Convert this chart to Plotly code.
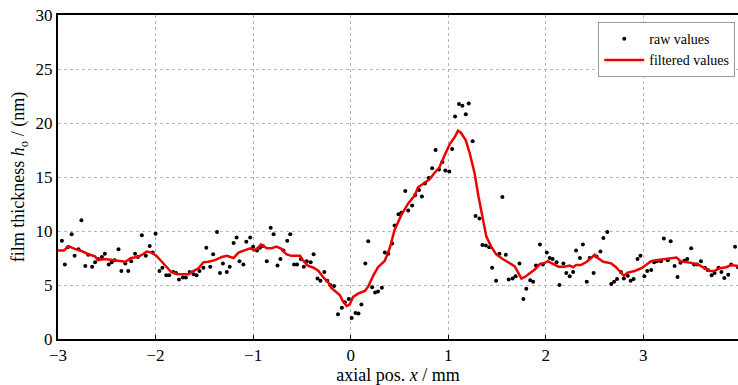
import plotly.graph_objects as go

# raw measured values (axial position in mm, film thickness in nm)
raw_x = [-2.96, -2.93, -2.90, -2.86, -2.83, -2.79, -2.76, -2.72, -2.69, -2.65, -2.62, -2.59, -2.55, -2.52,
         -2.48, -2.45, -2.42, -2.38, -2.35, -2.31, -2.28, -2.25, -2.21, -2.18, -2.14, -2.10, -2.06, -2.03,
         -2.00, -1.96, -1.93, -1.89, -1.86, -1.82, -1.79, -1.76, -1.72, -1.69, -1.65, -1.61, -1.58, -1.55,
         -1.51, -1.48, -1.44, -1.41, -1.37, -1.34, -1.31, -1.27, -1.24, -1.20, -1.17, -1.14, -1.10, -1.07,
         -1.03, -1.00, -0.96, -0.93, -0.90, -0.86, -0.82, -0.79, -0.75, -0.72, -0.69, -0.65, -0.62, -0.58,
         -0.55, -0.51, -0.48, -0.45, -0.41, -0.38, -0.34, -0.31, -0.27, -0.24, -0.21, -0.17, -0.13, -0.09,
         -0.06, -0.02, 0.01, 0.05, 0.08, 0.11, 0.15, 0.18, 0.22, 0.25, 0.28, 0.32, 0.35, 0.385, 0.425, 0.45,
         0.49, 0.52, 0.56, 0.59, 0.63, 0.66, 0.70, 0.73, 0.76, 0.80, 0.835, 0.87, 0.905, 0.94, 0.97, 1.01,
         1.04, 1.07, 1.11, 1.145, 1.18, 1.21, 1.25, 1.28, 1.32, 1.35, 1.385, 1.42, 1.45, 1.49, 1.525, 1.555,
         1.59, 1.62, 1.66, 1.69, 1.73, 1.77, 1.80, 1.84, 1.87, 1.90, 1.94, 1.97, 2.01, 2.04, 2.07, 2.11,
         2.14, 2.18, 2.21, 2.245, 2.28, 2.31, 2.35, 2.38, 2.42, 2.45, 2.49, 2.52, 2.56, 2.59, 2.63, 2.67,
         2.70, 2.73, 2.77, 2.80, 2.84, 2.87, 2.90, 2.94, 2.97, 3.01, 3.04, 3.08, 3.11, 3.14, 3.18, 3.21,
         3.25, 3.28, 3.32, 3.35, 3.38, 3.42, 3.45, 3.49, 3.52, 3.55, 3.59, 3.63, 3.66, 3.70, 3.73, 3.77,
         3.80, 3.83, 3.87, 3.90, 3.94, 3.97]
raw_y = [9.1, 6.9, 8.5, 9.7, 7.7, 8.3, 11.0, 6.75, 7.8, 6.7, 7.1, 7.4, 7.6, 7.9,
         6.9, 7.1, 7.3, 8.3, 6.3, 7.0, 6.3, 7.2, 7.9, 7.6, 9.6, 7.7, 8.6, 8.0,
         9.75, 6.3, 6.6, 5.9, 5.9, 6.2, 6.1, 5.5, 5.7, 5.7, 6.2, 6.0, 5.9, 6.3,
         6.6, 8.45, 6.7, 7.85, 9.9, 6.1, 7.0, 6.2, 6.7, 8.9, 9.4, 7.2, 6.9, 9.0,
         9.4, 8.55, 8.2, 8.45, 8.6, 7.2, 10.3, 9.7, 6.8, 7.4, 8.2, 9.1, 9.7, 6.9,
         6.9, 7.4, 6.7, 7.2, 7.1, 7.85, 5.6, 5.4, 6.2, 5.4, 5.0, 4.9, 2.3, 2.9,
         3.4, 3.7, 1.95, 2.4, 2.35, 3.2, 7.0, 9.05, 4.8, 4.3, 4.4, 4.75, 8.0, 7.9, 8.85, 10.5,
         11.55, 11.7, 13.7, 11.9, 12.35, 13.3, 13.8, 13.2, 14.4, 14.9, 15.8, 17.5, 15.7, 16.4, 15.6, 15.5,
         17.6, 20.6, 21.75, 21.6, 20.8, 21.8, 18.3, 11.4, 11.15, 8.7, 8.65, 8.5, 6.6, 5.4, 7.9, 13.15,
         7.8, 5.5, 5.6, 5.8, 7.0, 3.7, 4.65, 5.45, 5.3, 6.8, 8.75, 6.9, 8.0, 7.5, 7.4, 7.1,
         5.0, 7.0, 6.1, 5.8, 6.2, 8.2, 7.5, 8.75, 5.3, 7.5, 6.1, 7.65, 8.1, 9.35, 9.9, 5.1,
         5.3, 5.55, 6.2, 5.6, 5.85, 5.4, 5.55, 7.4, 7.7, 5.8, 6.3, 6.4, 7.1, 7.2, 7.2, 9.3,
         7.3, 9.05, 6.75, 5.75, 7.05, 7.25, 7.4, 8.4, 6.9, 6.9, 7.2, 6.6, 6.4, 5.9, 6.1, 6.6,
         6.2, 5.65, 5.95, 6.9, 8.55, 6.65]

# filtered curve
filt_x = [-3.00, -2.94, -2.89, -2.83, -2.76, -2.69, -2.62, -2.59, -2.52, -2.42, -2.31, -2.25, -2.18,
          -2.13, -2.09, -2.04, -1.99, -1.94, -1.89, -1.84, -1.78, -1.72, -1.66, -1.63, -1.56, -1.51,
          -1.46, -1.39, -1.32, -1.27, -1.20, -1.15, -1.08, -1.03, -0.99, -0.95, -0.92, -0.86, -0.81,
          -0.76, -0.71, -0.66, -0.61, -0.52, -0.49, -0.44, -0.38, -0.33, -0.28, -0.23, -0.20, -0.16,
          -0.11, -0.08, -0.04, -0.01, 0.025, 0.075, 0.145, 0.18, 0.23, 0.28, 0.35, 0.40, 0.45, 0.52,
          0.59, 0.66, 0.69, 0.74, 0.81, 0.86, 0.91, 0.965, 1.016, 1.07, 1.10, 1.13, 1.18, 1.22, 1.27,
          1.31, 1.36, 1.39, 1.44, 1.49, 1.55, 1.60, 1.65, 1.68, 1.72, 1.75, 1.785, 1.84, 1.89, 1.94,
          1.99, 2.02, 2.07, 2.13, 2.19, 2.245, 2.28, 2.31, 2.36, 2.42, 2.47, 2.50, 2.54, 2.59, 2.67,
          2.72, 2.76, 2.80, 2.84, 2.91, 2.98, 3.03, 3.08, 3.13, 3.20, 3.27, 3.34, 3.38, 3.44, 3.49,
          3.56, 3.63, 3.68, 3.73, 3.78, 3.85, 3.90, 3.97]
filt_y = [8.2, 8.2, 8.6, 8.35, 8.15, 7.85, 7.65, 7.3, 7.4, 7.3, 7.15, 7.5, 7.6,
          7.85, 8.1, 8.0, 7.7, 7.2, 6.7, 6.2, 6.0, 6.0, 6.0, 6.2, 6.55, 7.1,
          7.15, 7.3, 7.6, 7.7, 7.5, 8.0, 8.25, 8.4, 8.2, 8.45, 8.75, 8.4, 8.4,
          8.55, 8.35, 7.85, 7.7, 7.7, 7.3, 6.8, 6.6, 6.3, 5.7, 5.25, 4.75, 4.45,
          4.05, 3.5, 3.05, 3.2, 3.9, 4.2, 4.45, 4.85, 5.85, 6.65, 7.25, 8.4, 10.1, 11.5,
          12.55, 13.35, 14.05, 14.35, 14.8, 15.4, 15.9, 17.05, 18.05, 18.75, 19.3, 19.1, 18.4, 17.2, 15.35,
          13.2, 10.9, 9.5, 8.55, 7.85, 7.45, 7.15, 6.9, 6.75, 6.1, 5.6, 5.75, 6.15, 6.45, 6.95,
          7.05, 7.2, 6.95, 6.7, 6.7, 6.8, 6.65, 6.85, 6.85, 7.15, 7.55, 7.8, 7.45, 7.15, 7.0,
          6.65, 6.25, 5.85, 6.15, 6.3, 6.55, 6.85, 7.2, 7.3, 7.4, 7.45, 7.55, 7.2, 7.15, 7.05,
          6.9, 6.55, 6.3, 6.3, 6.55, 6.65, 6.85, 6.75]

x_ticks = [-3, -2, -1, 0, 1, 2, 3]
x_ticktext = ["\u22123", "\u22122", "\u22121", "0", "1", "2", "3"]
y_ticks = [0, 5, 10, 15, 20, 25, 30]

FONT = "Liberation Serif, DejaVu Serif, serif"

fig = go.Figure()
fig.add_trace(go.Scatter(x=raw_x, y=raw_y, mode="markers", name="raw values",
                         marker=dict(color="black", size=4)))
fig.add_trace(go.Scatter(x=filt_x, y=filt_y, mode="lines", name="filtered values",
                         line=dict(color="#ee0000", width=2.5)))

fig.update_layout(
    width=738, height=385,
    margin=dict(l=58, r=0, t=15, b=46, autoexpand=False),
    paper_bgcolor="white", plot_bgcolor="white",
    font=dict(family=FONT, size=17, color="black"),
    showlegend=True,
    legend=dict(x=0.996, y=0.978, xanchor="right", yanchor="top",
                bgcolor="white", bordercolor="#999999", borderwidth=1,
                font=dict(family=FONT, size=14), itemwidth=40,
                tracegroupgap=0),
    xaxis=dict(range=[-3, 3.97], tickvals=x_ticks, ticktext=x_ticktext,
               showline=True, linecolor="black", linewidth=2, mirror=True,
               ticks="inside", ticklen=4, tickcolor="black", tickwidth=1,
               showgrid=True, gridcolor="#b5b5b5", griddash="dot", gridwidth=1,
               zeroline=False, automargin=False,
               title=dict(text="axial pos. <i>x</i> / mm", font=dict(family=FONT, size=18), standoff=4)),
    yaxis=dict(range=[0, 30], tickvals=y_ticks, ticklabeloverflow="allow",
               showline=True, linecolor="black", linewidth=2, mirror=False,
               ticks="", showgrid=True, gridcolor="#b5b5b5", griddash="dot", gridwidth=1,
               zeroline=False, automargin=False,
               title=dict(text="film thickness <i>h</i><sub>o</sub> / (nm)", font=dict(family=FONT, size=18), standoff=6)),
)

# remove the default 8px body margin so the figure fills the window exactly
fig.write_html("out.html", config={"displayModeBar": False},
               post_script="document.body.style.margin='0px';")
